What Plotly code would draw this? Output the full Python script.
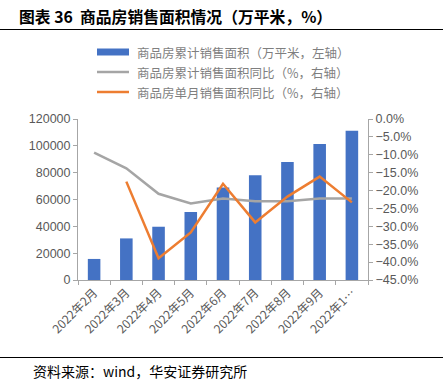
import plotly.graph_objects as go

categories = ["2022年2月", "2022年3月", "2022年4月", "2022年5月", "2022年6月",
              "2022年7月", "2022年8月", "2022年9月", "2022年10月"]
tick_labels = ["2022年2月", "2022年3月", "2022年4月", "2022年5月", "2022年6月",
               "2022年7月", "2022年8月", "2022年9月", "2022年1…"]
cum_area = [15700, 31000, 39700, 50700, 68900, 78000, 88000, 101400, 111200]
cum_yoy = [-9.4, -13.8, -20.9, -23.6, -22.2, -23.0, -23.0, -22.2, -22.2]
month_yoy = [None, -17.5, -38.9, -31.7, -18.1, -28.9, -21.7, -16.1, -23.3]

legend_names = ["商品房累计销售面积（万平米，左轴）",
                "商品房累计销售面积同比（%，右轴）",
                "商品房单月销售面积同比（%，右轴）"]
colors = ["#4472C4", "#A5A5A5", "#ED7D31"]

CJK = "Noto Sans CJK SC"
NUM = "Liberation Sans, Arial, sans-serif"
TICK_COLOR = "#595959"
AXIS_COLOR = "#A6A6A6"

fig = go.Figure()
fig.add_trace(go.Bar(x=categories, y=cum_area, name=legend_names[0],
                     marker=dict(color=colors[0], line=dict(width=0)),
                     width=0.39, yaxis="y"))
fig.add_trace(go.Scatter(x=categories, y=cum_yoy, name=legend_names[1], mode="lines",
                         line=dict(color=colors[1], width=2.5), yaxis="y2"))
fig.add_trace(go.Scatter(x=categories, y=month_yoy, name=legend_names[2], mode="lines",
                         line=dict(color=colors[2], width=2.5), yaxis="y2",
                         connectgaps=False))

L, R, T, B = 78, 77, 119, 102
W, H = 445, 382
pw, ph = W - L - R, H - T - B

def px_x(x):
    return (x - L) / pw

def px_y(y):
    return (H - B - y) / ph

shapes = []
annotations = []
# legend (manual)
leg_rows = [52, 72, 92]
for i, (name, yy) in enumerate(zip(legend_names, leg_rows)):
    if i == 0:
        shapes.append(dict(type="rect", xref="paper", yref="paper",
                           x0=px_x(97), x1=px_x(129), y0=px_y(yy + 3.5), y1=px_y(yy - 3.5),
                           fillcolor=colors[0], line=dict(width=0)))
    else:
        shapes.append(dict(type="line", xref="paper", yref="paper",
                           x0=px_x(97), x1=px_x(129), y0=px_y(yy), y1=px_y(yy),
                           line=dict(color=colors[i], width=2.5)))
    annotations.append(dict(text=name, xref="paper", yref="paper", x=px_x(135), y=px_y(yy),
                            xanchor="left", yanchor="middle", showarrow=False,
                            font=dict(family=CJK, size=12.5, color="#7F7F7F")))

# title and rules
annotations.append(dict(text="<b>图表 36  商品房销售面积情况（万平米，%）</b>", xref="paper", yref="paper",
                        x=px_x(17), y=px_y(17), xanchor="left", yanchor="middle",
                        showarrow=False, font=dict(family=CJK, size=15.8, color="#000000")))
shapes.append(dict(type="line", xref="paper", yref="paper", x0=px_x(0), x1=px_x(443),
                   y0=px_y(29.5), y1=px_y(29.5), line=dict(color="#000000", width=1)))
shapes.append(dict(type="line", xref="paper", yref="paper", x0=px_x(0), x1=px_x(443),
                   y0=px_y(357.5), y1=px_y(357.5), line=dict(color="#000000", width=1)))
annotations.append(dict(text="资料来源：wind，华安证券研究所", xref="paper", yref="paper",
                        x=px_x(31), y=px_y(371), xanchor="left", yanchor="middle",
                        showarrow=False, font=dict(family=CJK, size=14, color="#000000")))

fig.update_layout(
    width=W, height=H,
    margin=dict(l=L, r=R, t=T, b=B, pad=0),
    paper_bgcolor="white", plot_bgcolor="white",
    showlegend=False,
    bargap=0.6,
    xaxis=dict(type="category", tickvals=categories, ticktext=tick_labels,
               tickangle=-45, tickfont=dict(family=CJK, size=12, color=TICK_COLOR),
               showline=True, linecolor=AXIS_COLOR, linewidth=1,
               ticks="outside", ticklen=4, tickcolor=AXIS_COLOR, tickson="boundaries",
               showgrid=False, zeroline=False),
    yaxis=dict(range=[0, 120000], dtick=20000, tickformat="d",
               tickfont=dict(family=NUM, size=12.5, color=TICK_COLOR),
               showline=True, linecolor=AXIS_COLOR, linewidth=1,
               ticks="outside", ticklen=4, tickcolor=AXIS_COLOR,
               showgrid=False, zeroline=False),
    yaxis2=dict(range=[-45, 0], dtick=5, tickformat=".1f", ticksuffix="%",
                overlaying="y", side="right",
                tickfont=dict(family=NUM, size=12.5, color=TICK_COLOR),
                showline=True, linecolor=AXIS_COLOR, linewidth=1,
                ticks="outside", ticklen=4, tickcolor=AXIS_COLOR,
                showgrid=False, zeroline=False),
    shapes=shapes,
    annotations=annotations,
)

fig.write_html("out.html", config={"displayModeBar": False},
               post_script="document.body.style.margin='0';document.body.style.overflow='hidden';")
